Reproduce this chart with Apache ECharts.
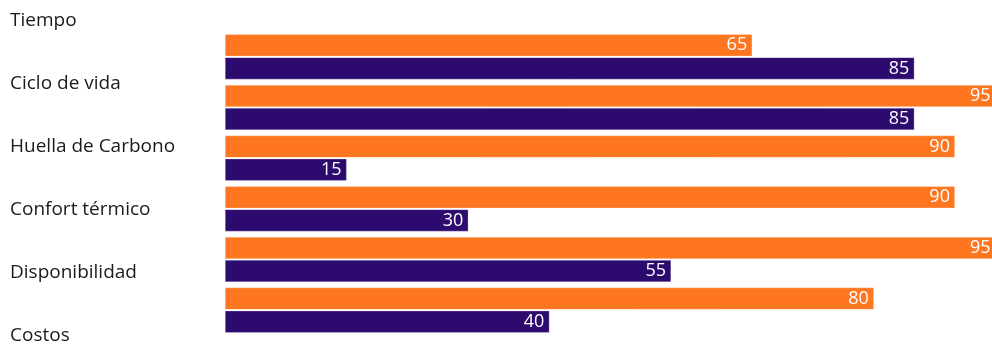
<!DOCTYPE html>
<html>
<head>
<meta charset="utf-8">
<script src="https://cdn.jsdelivr.net/npm/echarts@6/dist/echarts.min.js"></script>
<style>
  html, body { margin: 0; padding: 0; background: #fff; }
  #chart { width: 992px; height: 345px; }
</style>
</head>
<body>
<div id="chart"></div>
<script>
// categorias (de arriba a abajo)
const categories = ['Tiempo', 'Ciclo de vida', 'Huella de Carbono', 'Confort térmico', 'Disponibilidad', 'Costos'];
const orangeValues = [65, 95, 90, 90, 95, 80];
const purpleValues = [85, 85, 15, 30, 55, 40];

const chart = echarts.init(document.getElementById('chart'));

const barLabel = {
  show: true,
  position: 'insideRight',
  distance: 5,
  color: '#fff',
  fontFamily: 'Open Sans',
  fontSize: 18
};

chart.setOption({
  animation: false,
  grid: [
    // solo etiquetas
    { left: 10, width: 200, top: 21, bottom: 8 },
    // barras (el 95 se sale un poco del lienzo, como en el original)
    { left: 225, right: 0, top: 31.5, bottom: 9.5 }
  ],
  xAxis: [
    { gridIndex: 0, type: 'value', show: false },
    { gridIndex: 1, type: 'value', min: 0, max: 94.57, show: false }
  ],
  yAxis: [
    {
      gridIndex: 0,
      type: 'category',
      data: categories,
      inverse: true,
      boundaryGap: false,
      axisLine: { show: false },
      axisTick: { show: false },
      axisLabel: {
        inside: true,
        margin: 0,
        align: 'left',
        color: '#1a1a1a',
        fontFamily: 'Open Sans',
        fontSize: 19
      }
    },
    {
      gridIndex: 1,
      type: 'category',
      data: categories,
      inverse: true,
      show: false
    }
  ],
  series: [
    {
      type: 'bar',
      xAxisIndex: 1,
      yAxisIndex: 1,
      data: orangeValues,
      clip: false,
      barWidth: 22,
      barGap: '5%',
      itemStyle: { color: '#FF7620', borderColor: 'rgba(255,255,255,0.5)', borderWidth: 0.5 },
      label: barLabel
    },
    {
      type: 'bar',
      xAxisIndex: 1,
      yAxisIndex: 1,
      data: purpleValues,
      clip: false,
      barWidth: 22,
      barGap: '5%',
      itemStyle: { color: '#2D0B6E', borderColor: 'rgba(255,255,255,0.5)', borderWidth: 0.5 },
      label: barLabel
    }
  ]
});
</script>
</body>
</html>
